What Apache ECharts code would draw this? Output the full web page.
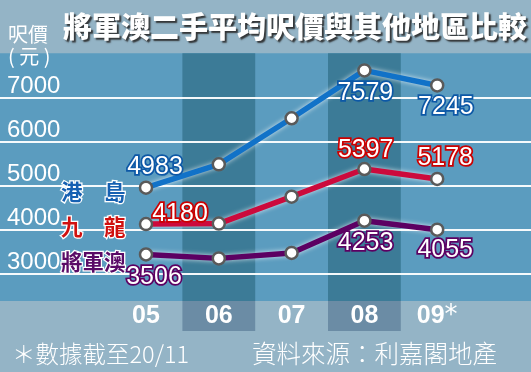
<!DOCTYPE html>
<html>
<head>
<meta charset="utf-8">
<script src="https://cdn.jsdelivr.net/npm/echarts@6/dist/echarts.min.js"></script>
<style>
html,body{margin:0;padding:0;background:#94b4c6;}
#chart{width:531px;height:372px;}
</style>
</head>
<body>
<div id="chart"></div>
<script>
// ---- data ----
const categories = ['05', '06', '07', '08', '09*'];
const seriesNames = ['港島', '九龍', '將軍澳'];
const hkIsland = [4983, 5500, 6520, 7579, 7245];
const kowloon = [4180, 4190, 4785, 5397, 5178];
const tseungKwanO = [3506, 3420, 3540, 4253, 4055];
const yTickValues = [3000, 4000, 5000, 6000, 7000];

const CJK = "'Noto Sans CJK TC', 'Noto Sans CJK SC', sans-serif";
const NARROW = "'Liberation Sans Narrow', 'Liberation Sans', Arial, sans-serif";

function buildData(values, labelSpec, borderColor) {
  return values.map(function (v, i) {
    if (!labelSpec[i]) return v;
    return {
      value: v,
      label: {
        show: true,
        position: 'inside',
        offset: labelSpec[i],
        color: '#ffffff',
        fontFamily: NARROW,
        fontSize: 25,
        textBorderColor: borderColor,
        textBorderWidth: 3.5
      }
    };
  });
}

function lineSeries(name, values, color, labelBorder, labelSpec) {
  return {
    name: name,
    type: 'line',
    xAxisIndex: 1,
    yAxisIndex: 1,
    z: 5,
    data: buildData(values, labelSpec, labelBorder),
    symbol: 'circle',
    symbolSize: 12,
    lineStyle: {
      color: color, width: 5.5,
      shadowColor: 'rgba(255,255,255,0.75)', shadowBlur: 5
    },
    itemStyle: { color: '#ffffff', borderColor: '#5a5a5a', borderWidth: 2.5 },
    label: { show: false },
    emphasis: { disabled: true },
    animation: false
  };
}

const chart = echarts.init(document.getElementById('chart'));
chart.setOption({
  backgroundColor: '#94b4c6',
  animation: false,
  graphic: [{
    type: 'rect', z: 0, silent: true,
    shape: { x: 0, y: 53.3, width: 531, height: 247.7 },
    style: { fill: '#5b9cbf' }
  }],
  title: [
    {
      text: '將軍澳二手平均呎價與其他地區比較',
      left: 63, top: 10, padding: 0,
      textStyle: {
        color: '#ffffff', fontFamily: CJK, fontSize: 29, fontWeight: 900, lineHeight: 34,
        textShadowColor: 'rgba(40,40,40,0.9)', textShadowOffsetX: 2, textShadowOffsetY: 2, textShadowBlur: 1.5
      }
    },
    {
      text: '呎價\n( 元 )',
      left: 8, top: 23, padding: 0,
      textStyle: { color: '#ffffff', fontFamily: CJK, fontSize: 20, fontWeight: 'normal', lineHeight: 22 }
    },
    {
      text: '＊數據截至20/11',
      left: 12, top: 341, padding: 0,
      textStyle: { color: '#ffffff', fontFamily: CJK, fontSize: 23.5, fontWeight: 300, lineHeight: 26 }
    },
    {
      text: '資料來源：利嘉閣地產',
      left: 252, top: 340, padding: 0,
      textStyle: { color: '#ffffff', fontFamily: CJK, fontSize: 24.5, fontWeight: 300, lineHeight: 28 }
    }
  ],
  legend: {
    orient: 'vertical',
    left: 55, top: 180, padding: 0,
    itemGap: 11,
    itemWidth: 0, itemHeight: 0, icon: 'rect',
    itemStyle: { opacity: 0 }, lineStyle: { opacity: 0 },
    selectedMode: false,
    formatter: function (name) { return name.length === 2 ? name[0] + '\u3000' + name[1] : name; },
    textStyle: { fontFamily: CJK, fontSize: 21.5, fontWeight: 'bold', lineHeight: 22,
      textBorderColor: '#ffffff', textBorderWidth: 2.5 },
    data: [
      { name: seriesNames[0], textStyle: { color: '#1660b2' } },
      { name: seriesNames[1], textStyle: { color: '#d0100f' } },
      { name: seriesNames[2], textStyle: { color: '#5a0a66' } }
    ]
  },
  grid: [
    // full-width grid for the value gridlines and their labels
    { left: 0, right: 0, top: 97.3, bottom: 98.7 },
    // data grid
    { left: 109.6, right: 57.4, top: 53.3, bottom: 71 },
    // category label strip
    { left: 109.6, right: 57.4, top: 301, bottom: 41 }
  ],
  xAxis: [
    { gridIndex: 0, type: 'value', show: false, min: 0, max: 1 },
    {
      gridIndex: 1, type: 'category', data: categories, z: 1,
      axisLine: { show: false }, axisTick: { show: false }, axisLabel: { show: false, interval: 0 },
      splitLine: { show: false },
      splitArea: { show: true, interval: 0, areaStyle: { color: ['rgba(0,0,0,0)', '#3c7b97'] } }
    },
    {
      gridIndex: 2, type: 'category', data: categories, z: 1,
      axisLine: { show: false }, axisTick: { show: false },
      splitLine: { show: false },
      splitArea: { show: true, interval: 0, areaStyle: { color: ['rgba(0,0,0,0)', '#6b8ca5'] } },
      axisLabel: {
        inside: true, interval: 0, margin: 2, verticalAlign: 'bottom', lineHeight: 26,
        color: '#ffffff', fontFamily: "'Liberation Sans', Arial, sans-serif", fontSize: 25, fontWeight: 'bold',
        formatter: function (v) { return v.replace('*', '{s|*}'); },
        rich: { s: { color: '#ffffff', fontFamily: "'DejaVu Sans', sans-serif", fontSize: 26, fontWeight: 'normal', verticalAlign: 'top', lineHeight: 26 } }
      }
    }
  ],
  yAxis: [
    {
      gridIndex: 0, type: 'value', z: 2,
      min: yTickValues[0], max: yTickValues[yTickValues.length - 1],
      interval: yTickValues[1] - yTickValues[0],
      axisLine: { show: false }, axisTick: { show: false },
      axisLabel: {
        inside: true, margin: 7, verticalAlign: 'bottom', lineHeight: 22,
        color: '#ffffff', fontFamily: NARROW, fontSize: 24,
        formatter: function (v) { return String(v); }
      },
      splitLine: { show: true, lineStyle: { color: 'rgba(255,255,255,0.95)', width: 2 } }
    },
    { gridIndex: 1, type: 'value', show: false, min: 2477, max: 7957, splitLine: { show: false } },
    { gridIndex: 2, type: 'value', show: false, min: 0, max: 1 }
  ],
  series: [
    lineSeries(seriesNames[0], hkIsland, '#1172c8', '#0d58a6',
      { 0: [9, -21], 3: [1, 22.6], 4: [8.7, 22] }),
    lineSeries(seriesNames[1], kowloon, '#cc0a3c', '#cc0000',
      { 0: [34, -10], 3: [1.3, -18.8], 4: [8, -20.7] }),
    lineSeries(seriesNames[2], tseungKwanO, '#5c0062', '#5c0062',
      { 0: [8, 23], 3: [1.2, 22.7], 4: [8, 20] })
  ]
});
</script>
</body>
</html>
